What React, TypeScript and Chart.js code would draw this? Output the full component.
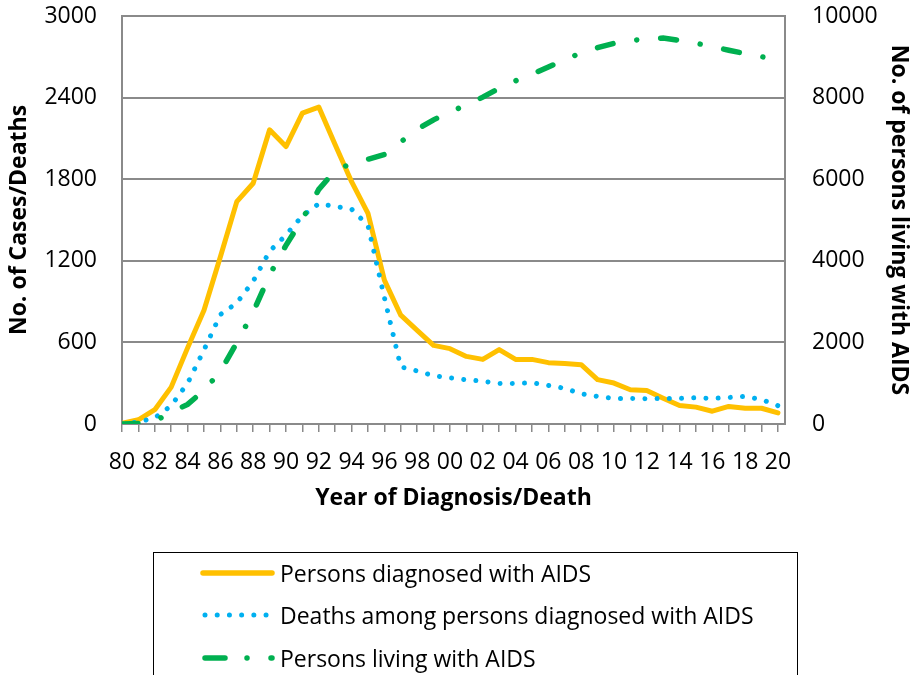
import React, { useEffect, useRef } from 'react';
import { Chart, registerables } from 'chart.js';

Chart.register(...registerables);

// ---------- data ----------
const years = [
  1980, 1981, 1982, 1983, 1984, 1985, 1986, 1987, 1988, 1989,
  1990, 1991, 1992, 1993, 1994, 1995, 1996, 1997, 1998, 1999,
  2000, 2001, 2002, 2003, 2004, 2005, 2006, 2007, 2008, 2009,
  2010, 2011, 2012, 2013, 2014, 2015, 2016, 2017, 2018, 2019,
  2020,
];
const xTickYears = [
  1980, 1982, 1984, 1986, 1988, 1990, 1992, 1994, 1996, 1998, 2000,
  2002, 2004, 2006, 2008, 2010, 2012, 2014, 2016, 2018, 2020,
];
const xTickLabels = [
  '80', '82', '84', '86', '88', '90', '92', '94', '96', '98', '00',
  '02', '04', '06', '08', '10', '12', '14', '16', '18', '20',
];
const leftTicks = [0, 600, 1200, 1800, 2400, 3000];
const rightTicks = [0, 2000, 4000, 6000, 8000, 10000];

const diagnosed = [
  5, 31, 105, 271, 560, 836, 1229, 1635, 1770, 2163,
  2040, 2286, 2330, 2053, 1782, 1549, 1058, 800, 689, 578,
  554, 497, 475, 547, 475, 475, 451, 444, 436, 326,
  301, 252, 247, 190, 136, 124, 94, 129, 116, 116,
  82,
];
const deaths = [
  0, 15, 45, 135, 300, 545, 805, 890, 1050, 1270,
  1390, 1530, 1620, 1600, 1580, 1460, 930, 420, 390, 355,
  340, 325, 315, 297, 298, 303, 284, 262, 222, 203,
  188, 188, 185, 188, 188, 193, 188, 195, 203, 180,
  135,
];
const living = [
  0, 15, 70, 290, 480, 825, 1290, 1990, 2740, 3650,
  4380, 5020, 5750, 6215, 6385, 6490, 6606, 6911, 7224, 7455,
  7650, 7817, 8011, 8228, 8412, 8573, 8750, 8931, 9095, 9226,
  9329, 9398, 9440, 9460, 9402, 9333, 9250, 9161, 9079, 9003,
  8930,
];
const seriesNames = [
  'Persons diagnosed with AIDS',
  'Deaths among persons diagnosed with AIDS',
  'Persons living with AIDS',
];
const xTitle = 'Year of Diagnosis/Death';
const leftTitle = 'No. of Cases/Deaths';
const rightTitle = 'No. of persons living with AIDS';

// ---------- styles ----------
const FONT = '"Open Sans", sans-serif';
const YELLOW = '#FFC000';
const BLUE = '#00B0F0';
const GREEN = '#00B050';
const GRID = '#8a8a8a';
const TEXT = '#000000';

const DOT_DASH = [0.01, 12.2];
const GREEN_DASH = [16, 24, 0.01, 24];

const boxLegend = {
  id: 'boxLegend',
  afterDraw(chart: any) {
    const ctx = chart.ctx as CanvasRenderingContext2D;
    ctx.save();
    ctx.strokeStyle = '#000';
    ctx.lineWidth = 1;
    ctx.setLineDash([]);
    ctx.strokeRect(153.5, 552.5, 644, 200);

    const rows = [
      { y: 573, color: YELLOW, dash: [] as number[], x0: 203, x1: 272, w: 5.5 },
      { y: 615, color: BLUE, dash: DOT_DASH, x0: 205, x1: 268, w: 5 },
      { y: 658, color: GREEN, dash: [20, 22, 0.01, 24], x0: 205, x1: 272, w: 5.5 },
    ];
    rows.forEach((r, i) => {
      ctx.beginPath();
      ctx.strokeStyle = r.color;
      ctx.lineWidth = r.w;
      ctx.lineCap = 'round';
      ctx.setLineDash(r.dash);
      ctx.moveTo(r.x0, r.y);
      ctx.lineTo(r.x1, r.y);
      ctx.stroke();
      ctx.setLineDash([]);
      ctx.fillStyle = TEXT;
      ctx.font = `23px ${FONT}`;
      ctx.textAlign = 'left';
      ctx.textBaseline = 'alphabetic';
      ctx.fillText(seriesNames[i], 280, r.y + 9);
    });
    ctx.restore();
  },
};

const noPad = (s: any) => {
  s.paddingTop = 0;
  s.paddingBottom = 0;
};

export default function App() {
  const ref = useRef<HTMLCanvasElement | null>(null);

  useEffect(() => {
    document.body.style.margin = '0';
    const canvas = ref.current;
    if (!canvas) return;

    const toPts = (arr: number[]) => arr.map((v, i) => ({ x: years[i], y: v }));

    const chart = new Chart(canvas, {
      type: 'line',
      data: {
        datasets: [
          {
            label: seriesNames[0],
            data: toPts(diagnosed),
            borderColor: YELLOW,
            backgroundColor: YELLOW,
            borderWidth: 5,
            pointRadius: 0,
            tension: 0,
            borderJoinStyle: 'round',
            borderCapStyle: 'round',
            yAxisID: 'y',
            order: 2,
          },
          {
            label: seriesNames[1],
            data: toPts(deaths),
            borderColor: BLUE,
            backgroundColor: BLUE,
            borderWidth: 5,
            borderDash: DOT_DASH,
            borderCapStyle: 'round',
            pointRadius: 0,
            tension: 0,
            yAxisID: 'y',
            order: 1,
          },
          {
            label: seriesNames[2],
            data: toPts(living),
            borderColor: GREEN,
            backgroundColor: GREEN,
            borderWidth: 5.5,
            borderDash: GREEN_DASH,
            borderCapStyle: 'round',
            pointRadius: 0,
            tension: 0,
            yAxisID: 'y1',
            order: 0,
          },
        ],
      },
      options: {
        responsive: false,
        animation: false,
        layout: { padding: { top: 16, left: 0, right: 0, bottom: 0 } },
        plugins: {
          legend: { display: false },
          tooltip: { enabled: false },
        },
        scales: {
          x: {
            type: 'linear',
            position: 'bottom',
            min: 1980,
            max: 2020.43,
            afterBuildTicks: (axis: any) => {
              axis.ticks = years.map((v) => ({ value: v }));
            },
            afterFit: (s: any) => {
              s.height = 251;
              s.paddingLeft = 0;
              s.paddingRight = 0;
            },
            grid: {
              drawOnChartArea: false,
              drawTicks: true,
              tickLength: 8,
              color: GRID,
              lineWidth: 1.5,
            },
            border: { display: true, color: GRID, width: 2 },
            ticks: {
              autoSkip: false,
              maxRotation: 0,
              minRotation: 0,
              padding: 17,
              color: TEXT,
              font: { family: FONT, size: 23 },
              callback: (v: any) => {
                const idx = xTickYears.indexOf(Number(v));
                return idx >= 0 ? xTickLabels[idx] : '';
              },
            },
            title: {
              display: true,
              text: xTitle,
              color: TEXT,
              font: { family: FONT, size: 23, weight: 'bold' },
              padding: { top: 0, bottom: 163 },
            },
          },
          y: {
            type: 'linear',
            position: 'left',
            min: 0,
            max: 3000,
            afterBuildTicks: (axis: any) => {
              axis.ticks = leftTicks.map((v) => ({ value: v }));
            },
            afterFit: (s: any) => {
              s.width = 122;
              noPad(s);
            },
            grid: { color: GRID, lineWidth: 2, drawTicks: false },
            border: { display: true, color: GRID, width: 2 },
            ticks: {
              padding: 25,
              color: TEXT,
              font: { family: FONT, size: 23 },
              callback: (v: any) => String(v),
            },
            title: {
              display: true,
              text: leftTitle,
              color: TEXT,
              font: { family: FONT, size: 23, weight: 'bold' },
              padding: { top: 6, bottom: 0 },
            },
          },
          y1: {
            type: 'linear',
            position: 'right',
            min: 0,
            max: 10000,
            afterBuildTicks: (axis: any) => {
              axis.ticks = rightTicks.map((v) => ({ value: v }));
            },
            afterFit: (s: any) => {
              s.width = 130;
              noPad(s);
            },
            grid: { drawOnChartArea: false, drawTicks: false, color: GRID },
            border: { display: true, color: GRID, width: 2 },
            ticks: {
              padding: 27,
              color: TEXT,
              font: { family: FONT, size: 23 },
              callback: (v: any) => String(v),
            },
            title: {
              display: true,
              text: rightTitle,
              color: TEXT,
              font: { family: FONT, size: 23, weight: 'bold' },
              padding: { top: 3, bottom: 0 },
            },
          },
        },
      } as any,
      plugins: [boxLegend],
    });

    return () => {
      chart.destroy();
    };
  }, []);

  return (
    <div style={{ position: 'fixed', left: 0, top: 0, width: 915, height: 675, background: '#fff' }}>
      <canvas ref={ref} width={915} height={675} style={{ display: 'block', width: 915, height: 675 }} />
    </div>
  );
}
